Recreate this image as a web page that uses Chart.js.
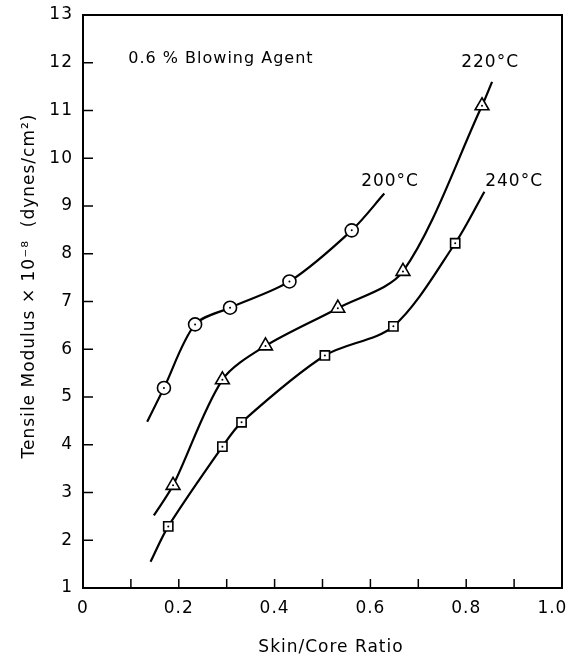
<!DOCTYPE html>
<html>
<head>
<meta charset="utf-8">
<script src="https://cdn.jsdelivr.net/npm/chart.js@4.4.1/dist/chart.umd.min.js"></script>
<style>
  html, body { margin: 0; padding: 0; background: #fff; }
  #wrap { width: 574px; height: 656px; }
</style>
</head>
<body>
<div id="wrap"><canvas id="myChart"></canvas></div>
<script>
// measured points (skin/core ratio, tensile modulus x 1e-8)
var x200 = [0.169, 0.234, 0.307, 0.431, 0.561];
var y200 = [5.19, 6.52, 6.87, 7.42, 8.49];
var x220 = [0.188, 0.291, 0.381, 0.532, 0.668, 0.833];
var y220 = [3.15, 5.36, 6.07, 6.86, 7.63, 11.1];
var x240 = [0.178, 0.291, 0.331, 0.505, 0.648, 0.777];
var y240 = [2.29, 3.96, 4.47, 5.87, 6.48, 8.22];

// where the drawn curves start and stop, beyond the data
var tails200 = [[0.134, 4.48], [0.629, 9.26]];
var tails220 = [[0.148, 2.52], [0.854, 11.6]];
var tails240 = [[0.141, 1.55], [0.838, 9.3]];

var xTicks = [0, 0.2, 0.4, 0.6, 0.8, 1.0];
var xTickLabels = ["0", "0.2", "0.4", "0.6", "0.8", "1.0   "];

function pts(xs, ys) {
  return xs.map(function (x, i) { return { x: x, y: ys[i] }; });
}
function curve(xs, ys, tails) {
  return [{ x: tails[0][0], y: tails[0][1] }].concat(pts(xs, ys), [{ x: tails[1][0], y: tails[1][1] }]);
}

function lineSet(data) {
  return {
    type: "line", data: data, borderColor: "#000", borderWidth: 2.2,
    pointRadius: 0, tension: 0.3, fill: false, order: 3
  };
}
function markerSet(data, style, r) {
  return {
    type: "scatter", data: data, pointStyle: style, pointRadius: r,
    backgroundColor: "#fff", borderColor: "#000", borderWidth: 1.6, order: 2
  };
}
function dotSet(data) {
  return {
    type: "scatter", data: data, pointStyle: "circle", pointRadius: 1,
    backgroundColor: "#000", borderColor: "#000", borderWidth: 0, order: 1
  };
}

var font = "'DejaVu Sans', sans-serif";

var notes = {
  id: "notes",
  beforeDraw: function (chart) {
    chart.ctx.letterSpacing = "1px";
  },
  afterDraw: function (chart) {
    var c = chart.ctx, a = chart.chartArea, xs = chart.scales.x, ys = chart.scales.y;
    c.save();
    // frame
    c.strokeStyle = "#000";
    c.lineWidth = 2;
    c.strokeRect(a.left, a.top, a.right - a.left, a.bottom - a.top);
    // inward ticks
    c.lineWidth = 1.5;
    for (var v = 1; v <= 13; v++) {
      var py = ys.getPixelForValue(v);
      c.beginPath(); c.moveTo(a.left, py); c.lineTo(a.left + 10, py); c.stroke();
    }
    for (var k = 1; k < 10; k++) {
      var px = xs.getPixelForValue(k / 10);
      c.beginPath(); c.moveTo(px, a.bottom); c.lineTo(px, a.bottom - 9); c.stroke();
    }
    // text labels
    c.fillStyle = "#000";
    c.letterSpacing = "1px";
    c.font = "16px " + font;
    c.textAlign = "center";
    c.textBaseline = "middle";
    c.fillText("0.6 % Blowing Agent", xs.getPixelForValue(0.288), ys.getPixelForValue(12.09));
    c.font = "17px " + font;
    c.fillText("200°C", xs.getPixelForValue(0.641), ys.getPixelForValue(9.52));
    c.fillText("220°C", xs.getPixelForValue(0.850), ys.getPixelForValue(12.01));
    c.fillText("240°C", xs.getPixelForValue(0.900), ys.getPixelForValue(9.52));
    // axis titles
    c.font = "17px " + font;
    c.fillText("Skin/Core Ratio", 331, 648);
    c.translate(30, 286);
    c.rotate(-Math.PI / 2);
    c.fillText("Tensile Modulus × 10⁻⁸  (dynes/cm²)", 0, 0);
    c.restore();
  }
};

var ctx = document.getElementById("myChart").getContext("2d");
var myChart = new Chart(ctx, {
  data: {
    datasets: [
      lineSet(curve(x200, y200, tails200)),
      lineSet(curve(x220, y220, tails220)),
      lineSet(curve(x240, y240, tails240)),
      markerSet(pts(x200, y200), "circle", 6.5),
      markerSet(pts(x220, y220), "triangle", 8),
      markerSet(pts(x240, y240), "rect", 6.5),
      dotSet(pts(x200, y200)),
      dotSet(pts(x220, y220)),
      dotSet(pts(x240, y240))
    ]
  },
  options: {
    responsive: true,
    maintainAspectRatio: false,
    animation: false,
    layout: { padding: { top: 15, right: 12, left: 0, bottom: 0 } },
    plugins: { legend: { display: false }, tooltip: { enabled: false } },
    scales: {
      x: {
        type: "linear", min: 0, max: 1,
        afterFit: function (s) { s.height = 68; s.paddingLeft = 0; s.paddingRight = 0; },
        afterBuildTicks: function (s) { s.ticks = xTicks.map(function (v) { return { value: v }; }); },
        grid: { display: false },
        border: { display: false },
        ticks: {
          color: "#000", padding: 2, maxRotation: 0, font: { family: font, size: 17 },
          callback: function (v, i) { return xTickLabels[i]; }
        }
      },
      y: {
        type: "linear", min: 1, max: 13,
        afterFit: function (s) { s.width = 83; s.paddingTop = 0; s.paddingBottom = 0; },
        grid: { display: false },
        border: { display: false },
        ticks: { stepSize: 1, color: "#000", padding: 2, font: { family: font, size: 17 } }
      }
    }
  },
  plugins: [notes]
});
</script>
</body>
</html>
